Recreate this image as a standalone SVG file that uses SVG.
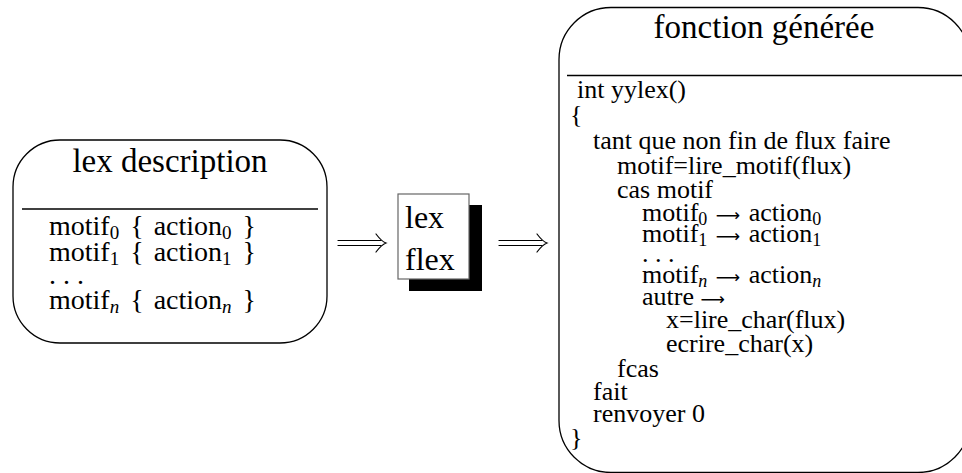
<svg xmlns="http://www.w3.org/2000/svg" xmlns:xlink="http://www.w3.org/1999/xlink" width="962" height="473" viewBox="0 0 962 473">
  <style>
    text { font-family: "Liberation Serif", "Times New Roman", serif; fill: #000; }
    .title { font-size: 33px; text-anchor: middle; }
    .code { font-size: 26px; }
    .item { font-size: 28px; }
    .sub { font-size: 18px; }
    .isub { font-size: 19px; }
    .to { font-family: "DejaVu Sans", sans-serif; font-size: 17px; }
    .frame { fill: #fff; stroke: #000; stroke-width: 1.3; }
    .rule { stroke: #000; stroke-width: 1.3; }
    .arrow { fill: none; stroke: #000; stroke-width: 1.2; stroke-linecap: round; }
  </style>
  <defs>
    <!-- long double arrow, origin at the tail, pointing right -->
    <g id="dbl-arrow" class="arrow">
      <path d="M0,-2.5 H43 M0,2.5 H43"/>
      <path d="M38,-9 C41,-5 44,-1.5 48,0 C44,1.5 41,5 38,9"/>
    </g>
  </defs>

  <rect width="962" height="473" fill="#fff"/>

  <!-- lex source description -->
  <g id="lex-description">
    <rect class="frame" x="13" y="140" width="314" height="203" rx="47" ry="47"/>
    <line class="rule" x1="22" y1="209" x2="318" y2="209"/>
    <text class="title" x="170" y="172">lex description</text>
    <text class="item" x="49" y="235">motif<tspan class="isub" dy="4">0</tspan><tspan dy="-4" dx="4"> {</tspan><tspan dx="3"> action</tspan><tspan class="isub" dy="4">0</tspan><tspan dy="-4" dx="4"> }</tspan></text>
    <text class="item" x="49" y="261">motif<tspan class="isub" dy="4">1</tspan><tspan dy="-4" dx="4"> {</tspan><tspan dx="3"> action</tspan><tspan class="isub" dy="4">1</tspan><tspan dy="-4" dx="4"> }</tspan></text>
    <text class="item" x="49" y="284">. . .</text>
    <text class="item" x="49" y="309">motif<tspan class="isub" dy="4" font-style="italic">n</tspan><tspan dy="-4" dx="4"> {</tspan><tspan dx="3"> action</tspan><tspan class="isub" dy="4" font-style="italic">n</tspan><tspan dy="-4" dx="4"> }</tspan></text>
  </g>

  <!-- lex / flex generator -->
  <g id="generator">
    <rect x="409" y="205" width="73" height="86" fill="#000"/>
    <rect x="398" y="194" width="71" height="85" fill="#fff" stroke="#666" stroke-width="1.2"/>
    <text x="405" y="228" font-size="32">lex</text>
    <text x="405" y="270" font-size="32">flex</text>
  </g>

  <!-- generated scanner function -->
  <g id="generated-function">
    <rect class="frame" x="559" y="7.5" width="411" height="465" rx="52" ry="52"/>
    <line class="rule" x1="567" y1="75.5" x2="962" y2="75.5"/>
    <text class="title" x="764" y="38">fonction générée</text>
    <text class="code" x="577" y="98">int yylex()</text>
    <text class="code" x="570" y="123">{</text>
    <text class="code" x="593" y="149">tant que non fin de flux faire</text>
    <text class="code" x="617" y="174">motif=lire_motif(flux)</text>
    <text class="code" x="617" y="198">cas motif</text>
    <text class="code" x="642" y="221">motif<tspan class="sub" dy="4">0</tspan><tspan dy="-4" dx="2"> </tspan><tspan class="to">⟶</tspan><tspan dx="2"> action</tspan><tspan class="sub" dy="4">0</tspan></text>
    <text class="code" x="642" y="242">motif<tspan class="sub" dy="4">1</tspan><tspan dy="-4" dx="2"> </tspan><tspan class="to">⟶</tspan><tspan dx="2"> action</tspan><tspan class="sub" dy="4">1</tspan></text>
    <text class="code" x="642" y="262">. . .</text>
    <text class="code" x="642" y="283">motif<tspan class="sub" dy="4" font-style="italic">n</tspan><tspan dy="-4" dx="2"> </tspan><tspan class="to">⟶</tspan><tspan dx="2"> action</tspan><tspan class="sub" dy="4" font-style="italic">n</tspan></text>
    <text class="code" x="642" y="305">autre <tspan class="to">⟶</tspan></text>
    <text class="code" x="666" y="328">x=lire_char(flux)</text>
    <text class="code" x="666" y="352">ecrire_char(x)</text>
    <text class="code" x="617" y="377">fcas</text>
    <text class="code" x="593" y="400">fait</text>
    <text class="code" x="593" y="422">renvoyer 0</text>
    <text class="code" x="570" y="446">}</text>
  </g>

  <!-- connectors -->
  <g id="connectors">
    <use xlink:href="#dbl-arrow" x="338" y="243"/>
    <use xlink:href="#dbl-arrow" x="499" y="243"/>
  </g>
</svg>
